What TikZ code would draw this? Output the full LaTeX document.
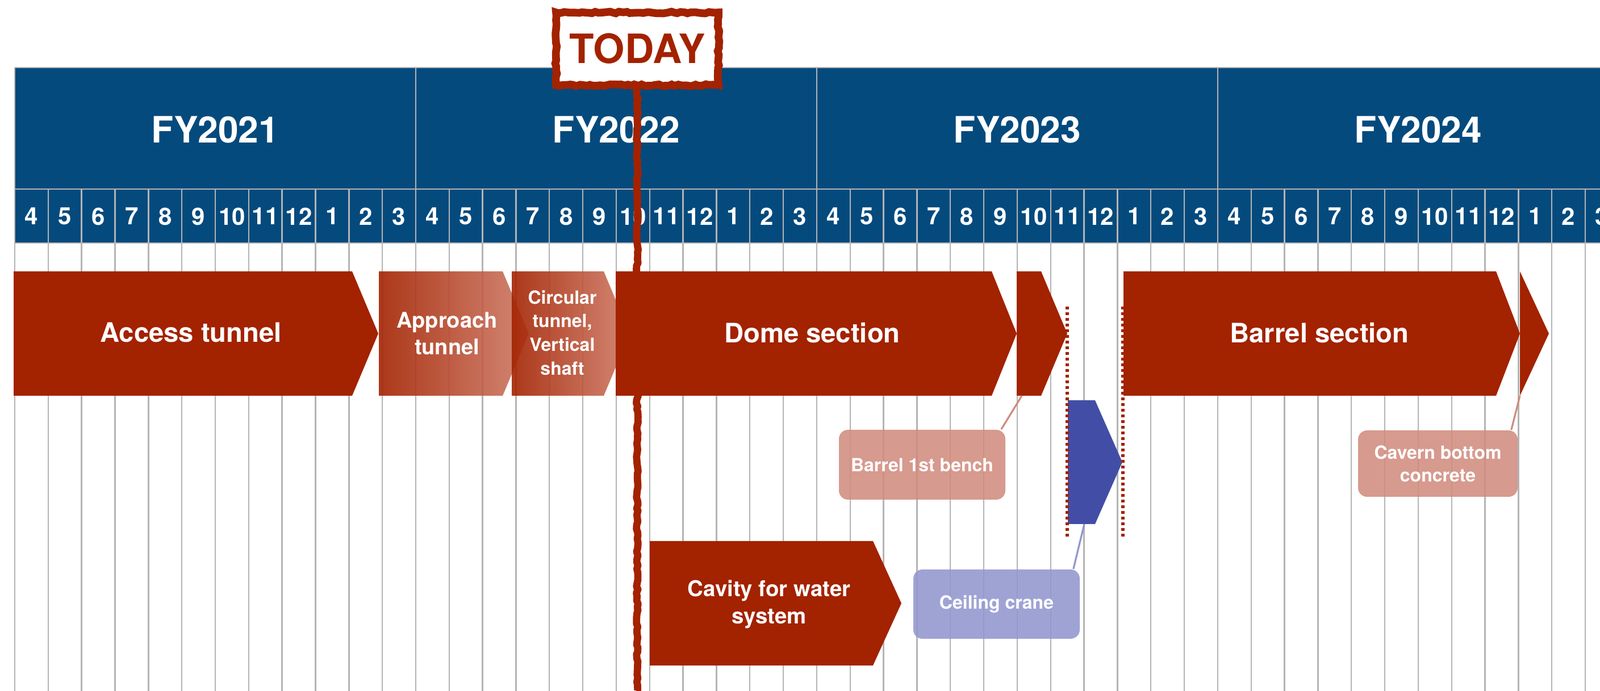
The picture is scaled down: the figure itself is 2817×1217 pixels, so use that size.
\documentclass[tikz,border=0pt]{standalone}
\usepackage{fontspec}
\setmainfont{TeX Gyre Heros}
\usetikzlibrary{calc,decorations.pathmorphing}
\definecolor{hdr}{RGB}{4,74,125}
\definecolor{barred}{RGB}{163,34,0}
\definecolor{barlt}{RGB}{206,122,102}
\definecolor{callr}{RGB}{208,140,126}
\definecolor{craneblue}{RGB}{66,78,166}
\definecolor{callb}{RGB}{146,150,206}
\definecolor{gridgray}{RGB}{180,180,180}
\newcommand\gchev[6]{%
  \path[#1] (#2,#5) -- (#3,#5) -- (#4,{(#5+#6)/2}) -- (#3,#6) -- (#2,#6) -- cycle;}
\tikzset{
  gridline/.style={draw=gridgray, line width=0.6pt},
  solidbar/.style={fill=barred},
  gradbar/.style={left color=barred, right color=barlt, fill opacity=0.9},
  yearlbl/.style={text=white, font=\bfseries\fontsize{16}{19}\selectfont},
  monthlbl/.style={text=white, font=\bfseries\fontsize{10.5}{12}\selectfont},
  bigbar/.style={text=white, font=\bfseries\fontsize{11.8}{14}\selectfont, align=center},
  midbar/.style={text=white, font=\bfseries\fontsize{9.5}{11.7}\selectfont, align=center},
  smallbar/.style={text=white, font=\bfseries\fontsize{8}{10.4}\selectfont, align=center},
  cavitylbl/.style={text=white, font=\bfseries\fontsize{9.6}{12}\selectfont, align=center},
  callout/.style={rounded corners=4pt, fill opacity=0.88, text opacity=1, text=white,
    font=\bfseries\fontsize{8}{10}\selectfont, align=center, inner sep=0pt},
  calloutline/.style={line width=0.8pt},
  dotline/.style={draw=barred, line width=1.4pt, dash pattern=on 1.3pt off 1.2pt},
  rough/.style={decorate, decoration={random steps, segment length=1.5pt, amplitude=0.4pt}},
}
\begin{document}
\begin{tikzpicture}[x=0.25pt,y=-0.25pt]
\useasboundingbox (0,0) rectangle (2817,1217);
\begin{scope}
\clip (0,0) rectangle (2817,1217);
% header background
\fill[hdr] (26,119) rectangle (2817,428);
% grid lines (month band and body)
\foreach \i in {0,...,48} {
  \draw[gridline] ({26+58.83*\i},333) -- ({26+58.83*\i},1217);
}
% year dividers
\foreach \i in {0,...,4} {
  \draw[gridline] ({26+706*\i},119) -- ({26+706*\i},333);
}
\draw[gridline] (26,119) -- (2817,119);
\draw[gridline] (26,333) -- (2817,333);
\draw[gridline] (26,428) -- (2817,428);
% year labels
\foreach \yr [count=\k from 0] in {2021,2022,2023,2024} {
  \node[yearlbl] (y\yr) at ({26+706*\k+353},228) {FY\yr};
}
% month labels
\foreach \i in {0,...,47} {
  \pgfmathtruncatemacro\mm{mod(\i+3,12)+1}
  \node[monthlbl] (m\i) at ({26+58.83*(\i+0.5)},381) {\mm};
}
% bars
\gchev{solidbar}{24}{620}{666}{478}{697}
\node[bigbar] (access) at (336,586) {Access tunnel};
\gchev{gradbar}{667}{885}{931}{478}{697}
\node[midbar] (approach) at (787,587) {Approach\\tunnel};
\gchev{gradbar}{901}{1063}{1109}{478}{697}
\node[smallbar] (circular) at (990,586) {Circular\\tunnel,\\Vertical\\shaft};
\gchev{solidbar}{1084}{1746}{1790}{478}{697}
\node[bigbar] (dome) at (1430,586) {Dome section};
\gchev{solidbar}{1790}{1833}{1879}{478}{697}
\gchev{solidbar}{1978}{2634}{2676}{478}{697}
\node[bigbar] (barrel) at (2323,586) {Barrel section};
\gchev{solidbar}{2676}{2676}{2727}{478}{697}
\gchev{solidbar}{1144}{1537}{1587}{953}{1172}
\node[cavitylbl] (cavity) at (1354,1064) {Cavity for water\\system};
\gchev{fill=craneblue}{1880}{1928}{1976}{705}{923}
% dotted markers
\coordinate (d1t) at (1879,540);
\coordinate (d1b) at (1879,947);
\coordinate (d2t) at (1977,540);
\coordinate (d2b) at (1977,947);
\draw[dotline] (d1t) -- (d1b);
\draw[dotline] (d2t) -- (d2b);
% callouts
\coordinate (benchbot) at (1799,697);
\coordinate (cavernbot) at (2676,697);
\coordinate (cranebot) at (1909,923);
\node[callout, fill=callr, minimum width=73.25pt, minimum height=30.75pt] (bench) at (1623.5,818.5) {Barrel 1st bench};
\node[callout, fill=callr, minimum width=70.25pt, minimum height=29.25pt] (cavern) at (2531.5,816.5) {Cavern bottom\\concrete};
\node[callout, fill=callb, minimum width=73.25pt, minimum height=30.5pt] (crane) at (1754.5,1064) {Ceiling crane};
\draw[calloutline, draw=callr] ($(bench.north east)+(-8,0)$) -- (benchbot);
\draw[calloutline, draw=callr] ($(cavern.north east)+(-12,0)$) -- (cavernbot);
\draw[calloutline, draw=callb] ($(crane.north east)+(-12,0)$) -- (cranebot);
% today marker
\node[draw=barred, line width=3.4pt, fill=white, rough, minimum width=71.5pt, minimum height=32pt,
      text=barred, font=\bfseries\fontsize{17.8}{20}\selectfont, inner sep=0pt] (today) at (1122,86) {TODAY};
\coordinate (todayend) at (1122,1217);
\draw[draw=barred, line width=3.2pt, line join=round, rough] (today.south) -- (todayend);
\end{scope}
\end{tikzpicture}
\end{document}
